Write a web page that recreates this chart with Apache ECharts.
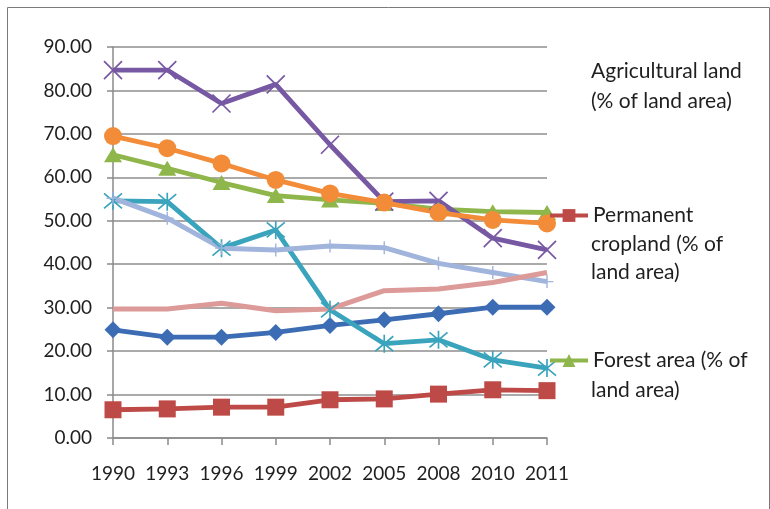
<!DOCTYPE html>
<html>
<head>
<meta charset="utf-8">
<script src="https://cdn.jsdelivr.net/npm/echarts@6/dist/echarts.min.js"></script>
<style>
  html, body { margin: 0; padding: 0; background: #fff; }
  #chart { width: 770px; height: 509px; }
</style>
</head>
<body>
<div id="chart"></div>
<script>
  // categories
  const years = ['1990', '1993', '1996', '1999', '2002', '2005', '2008', '2010', '2011'];

  // series values (% of land area)
  const agricultural = [24.9, 23.2, 23.2, 24.3, 25.9, 27.2, 28.6, 30.1, 30.1];
  const cropland = [6.5, 6.7, 7.1, 7.1, 8.8, 9.0, 10.1, 11.1, 10.9];
  const forest = [65.2, 62.1, 58.8, 55.8, 54.8, 54.0, 52.7, 52.1, 51.9];
  const series4 = [84.7, 84.7, 77.0, 81.4, 67.5, 54.4, 54.6, 46.0, 43.3];
  const series5 = [54.6, 54.4, 43.7, 47.9, 29.5, 21.7, 22.6, 18.0, 16.1];
  const series6 = [69.5, 66.7, 63.2, 59.4, 56.3, 54.2, 51.9, 50.2, 49.4];
  const series7 = [55.2, 50.6, 43.7, 43.3, 44.2, 43.8, 40.2, 38.1, 36.0];
  const series8 = [29.7, 29.7, 31.0, 29.3, 29.7, 33.9, 34.3, 35.8, 38.1];

  const names = {
    agri: 'Agricultural land (% of land area)',
    crop: 'Permanent cropland (% of land area)',
    forest: 'Forest area (% of land area)',
  };

  const FONT = 'Lato';
  const crossPath = 'path://M0,0L10,10M10,0L0,10';
  const starPath = 'path://M0,0L10,10M10,0L0,10M5,-1L5,11';
  const plusPath = 'path://M5,0L5,10M0,5L10,5';

  function line(name, data, color, symbol, size, extra) {
    return Object.assign({
      name,
      type: 'line',
      data,
      symbol,
      symbolSize: size,
      showSymbol: symbol !== 'none',
      lineStyle: { color, width: 4.8 },
      itemStyle: { color, borderColor: color, borderWidth: 0 },
      emphasis: { disabled: true },
      animation: false,
    }, extra || {});
  }

  const strokeSym = (color, w) => ({ color, borderColor: color, borderWidth: w });

  const series = [
    line(names.agri, agricultural, '#3c6db4', 'diamond', [17, 17]),
    line(names.crop, cropland, '#be4a47', 'rect', [17, 17]),
    line(names.forest, forest, '#8fb64b', 'triangle', [18, 15]),
    line('Series 4', series4, '#7758a3', crossPath, [18, 18], { itemStyle: strokeSym('#7758a3', 1.7) }),
    line('Series 5', series5, '#3ba4bd', starPath, [18, 18], { itemStyle: strokeSym('#3ba4bd', 1.7) }),
    line('Series 6', series6, '#f28c38', 'circle', [18, 18]),
    line('Series 7', series7, '#a0b4dc', plusPath, [13, 13], { itemStyle: strokeSym('#a0b4dc', 1.4), lineStyle: { color: '#a0b4dc', width: 5 } }),
    line('Series 8', series8, '#dc9a98', 'none', 0, { lineStyle: { color: '#dc9a98', width: 5 } }),
  ];

  const legendText = { fontFamily: FONT, fontSize: 21, color: '#1f1f1f' };

  function legendBlock(name, top, firstLine, hidden) {
    const item = { name, lineStyle: { width: 4 } };
    if (hidden) {
      item.icon = 'none';
      item.lineStyle = { opacity: 0 };
      item.itemStyle = { opacity: 0 };
    }
    return {
      left: 548,
      top,
      padding: 0,
      orient: 'vertical',
      itemWidth: 38,
      itemHeight: 16,
      selectedMode: false,
      data: [item],
      formatter: () => firstLine,
      textStyle: legendText,
    };
  }

  function textLine(text, y) {
    return {
      type: 'text',
      left: 591,
      top: y - 9,
      style: { text, font: '21px ' + FONT, fill: '#1f1f1f' },
    };
  }

  const option = {
    backgroundColor: '#fff',
    animation: false,
    grid: { left: 113, right: 223, top: 47, bottom: 71 },
    xAxis: {
      type: 'category',
      data: years,
      boundaryGap: false,
      axisLine: { show: true, lineStyle: { color: '#8a8a8a', width: 1.5 } },
      axisTick: { show: true, length: 7, lineStyle: { color: '#8a8a8a', width: 1.5 } },
      axisLabel: { interval: 0, hideOverlap: false, margin: 26, fontFamily: FONT, fontSize: 19, color: '#1f1f1f' },
      splitLine: { show: false },
    },
    yAxis: {
      type: 'value',
      min: 0,
      max: 90,
      interval: 10,
      axisLine: { show: true, lineStyle: { color: '#8a8a8a', width: 1.5 } },
      axisTick: { show: true, length: 6, lineStyle: { color: '#8a8a8a', width: 1.5 } },
      axisLabel: {
        margin: 21,
        fontFamily: FONT,
        fontSize: 19,
        color: '#1f1f1f',
        formatter: (v) => v.toFixed(2),
      },
      splitLine: { show: true, lineStyle: { color: '#8e8e8e', width: 1.5 } },
    },
    legend: [
      legendBlock(names.agri, 61, 'Agricultural land', true),
      legendBlock(names.crop, 205, 'Permanent'),
      legendBlock(names.forest, 350, 'Forest area (% of'),
    ],
    graphic: [
      {
        type: 'rect',
        left: 5,
        top: 5,
        shape: { width: 762, height: 530 },
        style: { fill: 'none', stroke: '#7a7a7a', lineWidth: 1 },
        silent: true,
      },
      textLine('(% of land area)', 100),
      textLine('cropland (% of', 243),
      textLine('land area)', 271),
      textLine('land area)', 389),
    ],
    series,
  };

  const myChart = echarts.init(document.getElementById('chart'));
  myChart.setOption(option);
</script>
</body>
</html>
